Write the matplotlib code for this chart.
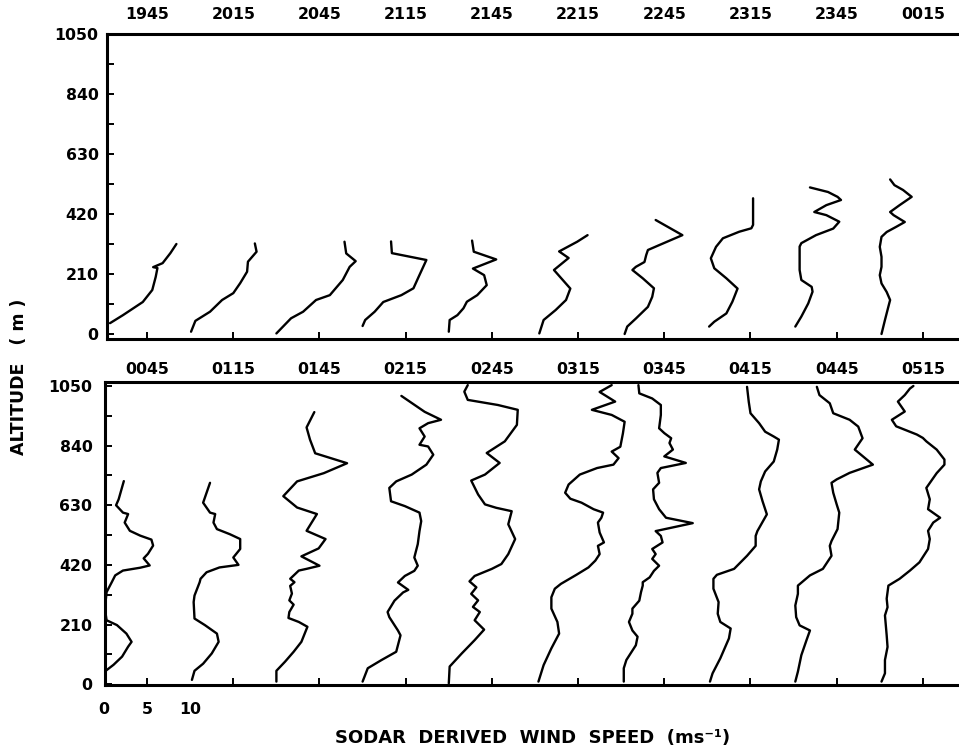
import numpy as np
import matplotlib
matplotlib.use("Agg")
import matplotlib.pyplot as plt
from matplotlib.ticker import FixedLocator

plt.rcParams['font.family'] = ['DejaVu Sans']
plt.rcParams['font.weight'] = 'bold'

# ---------------- data (wind speed m/s, altitude m) ----------------
top_times = ["1945", "2015", "2045", "2115", "2145", "2215", "2245", "2315", "2345", "0015"]
bottom_times = ["0045", "0115", "0145", "0215", "0245", "0315", "0345", "0415", "0445", "0515"]

spd_1945 = [0.7, 2.2, 4.5, 5.6, 6.0, 6.2, 5.7, 6.8, 7.7, 8.4]
alt_1945 = [38, 66, 112, 154, 200, 231, 234, 248, 283, 315]
spd_2015 = [0.1, 0.6, 2.3, 3.7, 5.0, 5.8, 6.6, 6.7, 7.7, 7.5]
alt_2015 = [8, 46, 78, 119, 143, 178, 218, 253, 288, 317]
spd_2045 = [0.0, 1.7, 3.1, 4.6, 6.2, 7.7, 8.5, 9.2, 8.1, 7.9]
alt_2045 = [2, 55, 78, 119, 136, 189, 235, 255, 282, 323]
spd_2115 = [0.0, 0.3, 1.4, 2.4, 4.5, 5.9, 6.5, 7.4, 3.4, 3.3]
alt_2115 = [28, 49, 78, 112, 136, 160, 200, 259, 283, 324]
spd_2145 = [0.0, 0.1, 1.0, 1.7, 2.1, 3.3, 4.4, 4.1, 2.8, 5.5, 2.9, 2.7]
alt_2145 = [8, 49, 66, 90, 113, 136, 171, 206, 229, 261, 288, 327]
spd_2215 = [0.5, 1.0, 2.4, 3.6, 4.1, 2.2, 3.9, 2.8, 4.9, 6.1]
alt_2215 = [2, 49, 84, 119, 159, 224, 266, 289, 323, 346]
spd_2245 = [0.4, 0.7, 1.7, 3.1, 3.6, 3.8, 2.5, 1.3, 1.7, 2.7, 2.9, 3.1, 4.4, 7.1, 4.0]
alt_2245 = [0, 26, 54, 95, 130, 160, 195, 224, 235, 252, 276, 294, 311, 346, 399]
spd_2315 = [0.2, 0.8, 2.2, 2.9, 3.5, 2.2, 0.8, 0.4, 1.0, 1.8, 3.7, 5.1, 5.3, 5.3]
alt_2315 = [26, 43, 72, 113, 159, 195, 230, 265, 305, 335, 358, 370, 382, 475]
spd_2345 = [0.2, 0.9, 1.7, 2.2, 2.1, 0.9, 0.7, 0.7, 0.9, 2.6, 4.6, 5.3, 3.8, 2.4, 3.8, 5.5, 5.1, 4.0, 1.9]
alt_2345 = [26, 61, 107, 148, 165, 189, 224, 306, 318, 346, 369, 393, 416, 427, 451, 469, 480, 497, 513]
spd_0015 = [0.2, 0.6, 1.0, 1.2, 0.8, 0.2, 0.0, 0.2, 0.2, 0.0, 0.2, 0.8, 1.9, 2.9, 1.6, 1.2, 2.3, 3.7, 2.7, 1.7, 1.2]
alt_0015 = [0, 49, 96, 119, 147, 177, 206, 235, 270, 305, 340, 357, 375, 392, 416, 427, 451, 480, 504, 521, 541]

spd_0045 = [0.2, 1.1, 2.1, 2.8, 3.2, 2.6, 1.5, 0.3, 0.1, 0.3, 0.9, 1.3, 2.2, 4.2, 5.3, 4.6, 5.1, 5.7, 5.5, 4.2,
            3.0, 2.4, 2.8, 2.2, 1.4, 1.7, 2.3]
alt_0045 = [47, 68, 97, 132, 149, 178, 208, 225, 266, 324, 359, 383, 400, 410, 418, 443, 459, 488, 509, 523,
            540, 569, 599, 604, 630, 651, 715]
spd_0115 = [0.2, 0.5, 1.5, 2.5, 3.3, 3.1, 1.7, 0.5, 0.4, 0.5, 1.1, 1.2, 1.9, 3.4, 5.6, 5.0, 5.8, 5.8, 4.6, 3.1,
            2.7, 2.9, 2.3, 1.5, 2.3]
alt_0115 = [15, 47, 72, 108, 149, 178, 208, 231, 289, 312, 359, 371, 394, 411, 420, 446, 476, 511, 528, 546,
            569, 599, 604, 639, 709]
spd_0145 = [0.0, 0.0, 1.0, 2.0, 2.9, 3.6, 2.6, 1.4, 1.5, 2.0, 1.5, 1.8, 1.6, 2.1, 1.6, 2.6, 3.5, 5.0, 2.9, 4.9,
            5.7, 3.5, 4.7, 2.4, 0.8, 2.4, 5.5, 8.2, 4.5, 3.9, 3.5, 4.4]
alt_0145 = [9, 47, 79, 114, 149, 202, 219, 233, 254, 280, 295, 319, 346, 359, 371, 400, 406, 417, 450, 478,
            511, 540, 599, 622, 662, 714, 743, 778, 813, 861, 904, 958]
spd_0215 = [0.0, 0.6, 2.2, 3.9, 4.4, 4.1, 3.1, 2.9, 3.7, 4.7, 5.3, 4.1, 4.9, 6.0, 6.4, 6.0, 6.4, 6.6, 6.8, 6.6,
            4.9, 3.3, 3.1, 3.9, 5.7, 7.4, 8.2, 7.6, 6.6, 7.2, 6.6, 7.6, 9.1, 7.2, 4.5]
alt_0215 = [9, 56, 85, 114, 172, 189, 236, 254, 294, 323, 332, 358, 381, 399, 417, 446, 493, 539, 574, 604,
            627, 644, 691, 714, 738, 773, 808, 837, 843, 872, 901, 919, 931, 959, 1015]
spd_0245 = [0.0, 0.1, 1.5, 3.0, 4.1, 3.0, 3.6, 2.8, 3.4, 2.6, 3.2, 2.4, 3.0, 5.0, 6.1, 6.9, 7.7, 6.9, 7.3, 5.5,
            4.2, 3.4, 2.6, 4.2, 5.9, 4.4, 6.5, 7.9, 8.0, 5.7, 2.2, 1.8, 2.2]
alt_0245 = [3, 62, 108, 155, 192, 225, 254, 272, 295, 318, 341, 362, 381, 406, 423, 458, 511, 563, 609, 621,
            633, 668, 717, 738, 779, 814, 855, 913, 966, 983, 1001, 1030, 1053]
spd_0315 = [0.4, 1.0, 1.9, 2.8, 2.6, 1.9, 1.9, 2.3, 3.0, 4.8, 6.2, 7.0, 7.5, 7.3, 8.0, 7.5, 7.3, 7.7, 7.9, 6.8,
            5.4, 4.1, 3.5, 3.9, 5.2, 7.2, 9.1, 9.7, 8.9, 9.9, 10.2, 10.4, 8.9, 6.6, 9.3, 7.5, 8.9]
alt_0315 = [9, 67, 126, 178, 219, 266, 306, 336, 353, 385, 411, 435, 458, 487, 499, 534, 569, 586, 604, 616,
            639, 653, 674, 703, 738, 761, 773, 796, 819, 836, 883, 924, 948, 966, 995, 1029, 1053]
spd_0345 = [0.3, 0.3, 0.6, 1.7, 1.9, 1.3, 0.9, 1.3, 1.3, 2.1, 2.3, 2.5, 2.5, 3.3, 3.8, 4.4, 3.6, 4.0, 3.6, 4.8,
            4.6, 4.0, 8.3, 5.2, 4.4, 3.8, 3.7, 4.4, 4.2, 4.6, 7.5, 5.0, 6.0, 5.6, 5.8, 5.0, 4.4, 4.6, 4.6, 3.6,
            2.1, 2.0]
alt_0345 = [9, 56, 85, 137, 167, 189, 219, 248, 266, 294, 324, 347, 359, 376, 399, 417, 441, 458, 476, 499,
            522, 539, 567, 586, 616, 651, 686, 709, 744, 761, 779, 802, 826, 849, 866, 884, 901, 948, 983, 1006,
            1024, 1053]
spd_0415 = [0.3, 0.6, 1.5, 2.5, 2.7, 1.5, 1.2, 1.3, 0.7, 0.7, 1.1, 3.1, 4.6, 5.6, 5.6, 5.8, 6.9, 6.4, 6.0, 6.2,
            6.7, 7.7, 8.1, 8.3, 7.7, 6.7, 6.0, 5.0, 4.8, 4.6]
alt_0415 = [9, 38, 91, 161, 196, 219, 248, 289, 336, 371, 385, 406, 452, 487, 522, 539, 598, 644, 686, 714,
            749, 784, 826, 861, 872, 889, 919, 954, 994, 1047]
spd_0445 = [0.2, 0.5, 0.9, 1.5, 1.9, 0.7, 0.3, 0.2, 0.5, 0.5, 1.9, 3.4, 4.4, 4.2, 4.4, 5.1, 5.3, 5.0, 4.6, 4.4,
            5.0, 6.5, 9.2, 7.1, 8.0, 7.5, 6.5, 4.6, 4.2, 3.0, 2.7]
alt_0445 = [9, 44, 102, 155, 189, 207, 236, 277, 318, 347, 383, 406, 452, 487, 504, 546, 604, 633, 674, 709,
            721, 744, 773, 826, 866, 907, 931, 954, 989, 1018, 1047]
spd_0515 = [0.2, 0.6, 0.6, 0.9, 0.8, 0.6, 0.9, 0.8, 1.0, 2.3, 3.5, 4.6, 5.6, 5.8, 5.6, 6.2, 7.0, 5.6, 5.8, 5.4,
            6.6, 7.5, 7.5, 6.6, 5.4, 5.0, 4.3, 1.9, 1.4, 2.9, 2.1, 2.9, 3.5, 3.9]
alt_0515 = [9, 38, 85, 131, 172, 242, 271, 301, 347, 371, 400, 429, 476, 511, 540, 569, 586, 616, 651, 691,
            743, 773, 791, 826, 855, 867, 879, 908, 931, 960, 995, 1018, 1041, 1050]

top_profiles = [(spd_1945, alt_1945), (spd_2015, alt_2015), (spd_2045, alt_2045), (spd_2115, alt_2115),
                (spd_2145, alt_2145), (spd_2215, alt_2215), (spd_2245, alt_2245), (spd_2315, alt_2315),
                (spd_2345, alt_2345), (spd_0015, alt_0015)]
bottom_profiles = [(spd_0045, alt_0045), (spd_0115, alt_0115), (spd_0145, alt_0145), (spd_0215, alt_0215),
                   (spd_0245, alt_0245), (spd_0315, alt_0315), (spd_0345, alt_0345), (spd_0415, alt_0415),
                   (spd_0445, alt_0445), (spd_0515, alt_0515)]

alt_ticks = [0, 210, 420, 630, 840, 1050]
speed_labels = ["0", "5", "10"]
speed_label_vals = [0, 5, 10]
offset_step = 10.0  # each profile is shifted by 10 m/s

# ---------------- figure ----------------
W, H = 959, 747
fig = plt.figure(figsize=(W / 100, H / 100), dpi=100)


def px_axes(left, top, right, bottom):
    return fig.add_axes([left / W, 1 - bottom / H, (right - left) / W, (bottom - top) / H])


ax_top = px_axes(107, 34, 959, 339)
ax_bot = px_axes(105, 382, 959, 685)

spine_lw = 2.2
for ax, profiles, times, ylim, xlim_left, label_pad, ypad in (
        (ax_top, top_profiles, top_times, (-17.5, 1050), 0.348, 8.5, 6),
        (ax_bot, bottom_profiles, bottom_times, (-3, 1064), 0.116, 3.5, 9)):
    for k, (s, a) in enumerate(profiles):
        ax.plot(np.asarray(s) + offset_step * k, a, color='black', lw=1.7,
                solid_joinstyle='round', solid_capstyle='round')
    ax.set_xlim(xlim_left, 99.19)
    ax.set_ylim(*ylim)
    ax.spines['right'].set_visible(False)
    for sp in ('left', 'top', 'bottom'):
        ax.spines[sp].set_linewidth(spine_lw)
    ax.set_yticks(alt_ticks)
    ax.set_yticklabels([str(t) for t in alt_ticks])
    ax.yaxis.set_minor_locator(FixedLocator([105, 315, 525, 735, 945]))
    ax.set_xticks([5 + offset_step * k for k in range(10)])
    ax.set_xticklabels([])
    ax.tick_params(axis='both', which='both', direction='in', length=5, width=1.4)
    ax.tick_params(axis='x', which='both', top=False)
    ax.tick_params(axis='y', which='both', right=False, pad=ypad, labelsize=11.3)
    for lab in ax.get_yticklabels():
        lab.set_fontweight('bold')
    for k, t in enumerate(times):
        ax.annotate(t, xy=(5 + offset_step * k, 1), xycoords=('data', 'axes fraction'),
                    xytext=(0, label_pad), textcoords='offset points', ha='center', va='bottom',
                    fontsize=11.3, fontweight='bold')

for v, lab in zip(speed_label_vals, speed_labels):
    ax_bot.annotate(lab, xy=(v, 0), xycoords=('data', 'axes fraction'), xytext=(0, -12),
                    textcoords='offset points', ha='center', va='top', fontsize=11.3, fontweight='bold')

fig.text(19 / W, 1 - 377 / H, "ALTITUDE   ( m )", rotation=90, ha='center', va='center',
         fontsize=12.5, fontweight='bold')
fig.text(533 / W, 1 - 738 / H, "SODAR  DERIVED  WIND  SPEED  (ms⁻¹)", ha='center', va='center',
         fontsize=13, fontweight='bold')

fig.savefig("out.png", dpi=100)
